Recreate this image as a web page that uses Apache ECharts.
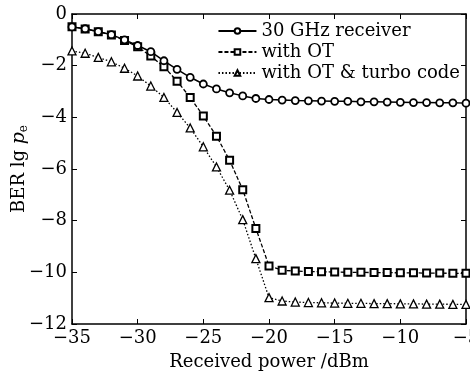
<!DOCTYPE html>
<html>
<head>
<meta charset="utf-8">
<script src="https://cdn.jsdelivr.net/npm/echarts@6/dist/echarts.min.js"></script>
<style>
  html, body { margin: 0; padding: 0; background: #fff; }
  #chart { width: 470px; height: 372px; }
</style>
</head>
<body>
<div id="chart"></div>
<script>
  // received power (dBm)
  var powers = [-35, -34, -33, -32, -31, -30, -29, -28, -27, -26, -25, -24, -23, -22, -21, -20,
    -19, -18, -17, -16, -15, -14, -13, -12, -11, -10, -9, -8, -7, -6, -5];

  // BER lg pe
  var receiver30 = [-0.5, -0.57, -0.68, -0.8, -1.0, -1.22, -1.46, -1.81, -2.14, -2.45, -2.71, -2.9, -3.05, -3.17, -3.27, -3.31,
    -3.33, -3.35, -3.36, -3.37, -3.38, -3.38, -3.4, -3.4, -3.41, -3.42, -3.43, -3.43, -3.44, -3.44, -3.45];
  var withOT = [-0.49, -0.58, -0.69, -0.81, -1.03, -1.27, -1.63, -2.04, -2.6, -3.23, -3.95, -4.73, -5.66, -6.8, -8.3, -9.75,
    -9.92, -9.95, -9.97, -9.98, -9.99, -10.0, -10.0, -10.01, -10.01, -10.02, -10.02, -10.03, -10.03, -10.04, -10.04];
  var withTurbo = [-1.43, -1.52, -1.68, -1.85, -2.1, -2.4, -2.79, -3.23, -3.81, -4.41, -5.14, -5.92, -6.82, -7.96, -9.47, -10.98,
    -11.11, -11.15, -11.17, -11.18, -11.19, -11.2, -11.2, -11.21, -11.21, -11.22, -11.22, -11.23, -11.23, -11.24, -11.24];

  var seriesNames = ['30 GHz receiver', 'with OT', 'with OT & turbo code'];

  function pairs(vals) {
    return powers.map(function (p, i) { return [p, vals[i]]; });
  }
  function minus(v) { return String(v).replace('-', '\u2212'); }

  var font = 'DejaVu Serif';
  var fs = 18;
  var chart = echarts.init(document.getElementById('chart'));

  var tick = { show: true, inside: true, length: 5, lineStyle: { color: '#000', width: 1 } };
  var line = { show: true, onZero: false, lineStyle: { color: '#000', width: 1.5 } };

  chart.setOption({
    animation: false,
    grid: { left: 72, right: 4, top: 14, bottom: 48, outerBoundsMode: 'none', containLabel: false },
    legend: {
      orient: 'vertical',
      right: 5,
      top: 17,
      itemGap: 3,
      itemWidth: 38,
      itemHeight: 7,
      data: seriesNames,
      textStyle: { fontFamily: font, fontSize: fs, color: '#000' }
    },
    xAxis: [{
      type: 'value', min: -35, max: -5, interval: 5,
      name: 'Received power /dBm', nameLocation: 'middle', nameGap: 29, nameMoveOverlap: false,
      nameTextStyle: { fontFamily: font, fontSize: fs, color: '#000' },
      axisLine: line, axisTick: tick, splitLine: { show: false },
      axisLabel: { fontFamily: font, fontSize: fs, color: '#000', margin: 5, formatter: minus }
    }, {
      type: 'value', position: 'top', min: -35, max: -5, interval: 5,
      axisLine: line, axisTick: tick, splitLine: { show: false }, axisLabel: { show: false }
    }],
    yAxis: [{
      type: 'value', min: -12, max: 0, interval: 2,
      name: 'BER lg {i|p}{s|e}', nameLocation: 'middle', nameGap: 42, nameRotate: 90, nameMoveOverlap: false,
      nameTextStyle: {
        fontFamily: font, fontSize: fs, color: '#000',
        rich: {
          i: { fontFamily: font, fontSize: 19, fontStyle: 'italic', color: '#000' },
          s: { fontFamily: font, fontSize: 12, color: '#000', verticalAlign: 'bottom', padding: [9, 0, 0, 0] }
        }
      },
      axisLine: line, axisTick: tick, splitLine: { show: false },
      axisLabel: { fontFamily: font, fontSize: fs, color: '#000', margin: 5, formatter: minus }
    }, {
      type: 'value', position: 'right', min: -12, max: 0, interval: 2,
      axisLine: line, axisTick: tick, splitLine: { show: false }, axisLabel: { show: false }
    }],
    series: [{
      name: seriesNames[0], type: 'line', data: pairs(receiver30),
      symbol: 'circle', symbolSize: 7, showAllSymbol: true,
      lineStyle: { color: '#000', width: 1.5, type: 'solid' },
      itemStyle: { color: '#fff', borderColor: '#000', borderWidth: 1.8 },
      z: 3
    }, {
      name: seriesNames[1], type: 'line', data: pairs(withOT),
      symbol: 'rect', symbolSize: 7, showAllSymbol: true,
      lineStyle: { color: '#000', width: 1.3, type: [4, 2] },
      itemStyle: { color: '#fff', borderColor: '#000', borderWidth: 2 },
      z: 2
    }, {
      name: seriesNames[2], type: 'line', data: pairs(withTurbo),
      symbol: 'triangle', symbolSize: 8, showAllSymbol: true,
      lineStyle: { color: '#000', width: 1.3, type: [1.5, 2] },
      itemStyle: { color: '#fff', borderColor: '#000', borderWidth: 1.3 },
      z: 2
    }]
  });
</script>
</body>
</html>
